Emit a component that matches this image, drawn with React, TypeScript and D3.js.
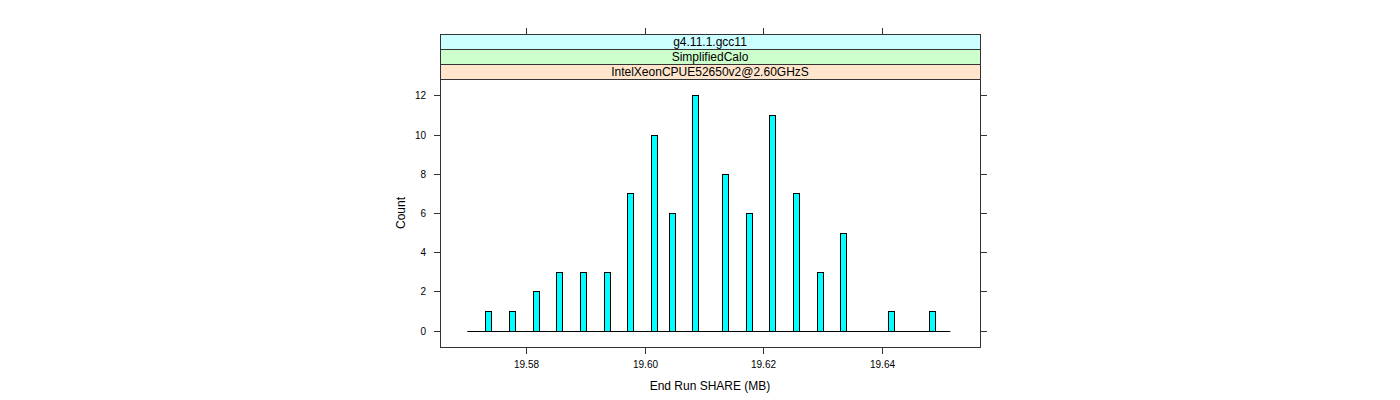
import React from "react";
import * as d3 from "d3";

// Data
const binStarts: number[] = [
  19.57314, 19.57719, 19.58113, 19.58511, 19.58915, 19.5931, 19.59707, 19.60112, 19.60405,
  19.60803, 19.61309, 19.61703, 19.62101, 19.62505, 19.629, 19.63298, 19.64096, 19.64793,
];
const counts: number[] = [1, 1, 2, 3, 3, 3, 7, 10, 6, 12, 8, 6, 11, 7, 3, 5, 1, 1];
const binWidth = 0.00101;
const breaksRange: [number, number] = [19.5701, 19.6515];
const xTicks: number[] = [19.58, 19.6, 19.62, 19.64];
const yTicks: number[] = [0, 2, 4, 6, 8, 10, 12];
const strips: string[] = ["g4.11.1.gcc11", "SimplifiedCalo", "IntelXeonCPUE52650v2@2.60GHzS"];
const stripColors: string[] = ["#ccffff", "#ccffcc", "#ffe5cc"];
const xLabel = "End Run SHARE (MB)";
const yLabel = "Count";

export default function App() {
  const W = 1400, H = 400;
  const left = 440, right = 980, top = 79, bottom = 347;
  const stripH = 15;
  const stripTop = top - stripH * strips.length;
  const x = d3.scaleLinear().domain([19.5655, 19.6565]).range([left, right]);
  const y = d3.scaleLinear().domain([-0.84, 12.84]).range([bottom, top]);
  const font = "'Liberation Sans', Arial, Helvetica, sans-serif";
  const frame = "#333";
  return (
    <svg width={W} height={H} style={{ position: "absolute", left: 0, top: 0, fontFamily: font }}>
      <rect x={0} y={0} width={W} height={H} fill="white" />
      {/* strips */}
      {strips.map((s, i) => {
        const yy = stripTop + i * stripH;
        return (
          <g key={s}>
            <rect x={left + 0.5} y={yy + 0.5} width={right - left} height={stripH} fill={stripColors[i]} stroke={frame} strokeWidth={1} />
            <text x={(left + right) / 2} y={yy + stripH / 2 + 4.3} textAnchor="middle" fontSize={12} fill="black">{s}</text>
          </g>
        );
      })}
      {/* panel frame */}
      <rect x={left + 0.5} y={top + 0.5} width={right - left} height={bottom - top} fill="none" stroke={frame} strokeWidth={1} />
      {/* baseline of empty bins */}
      <line x1={x(breaksRange[0])} x2={x(breaksRange[1])} y1={Math.round(y(0)) + 0.5} y2={Math.round(y(0)) + 0.5} stroke="black" strokeWidth={1} />
      {/* bars */}
      {binStarts.map((b, i) => {
        const x0 = Math.round(x(b)) + 0.5;
        const x1 = Math.round(x(b + binWidth)) + 0.5;
        const y0 = Math.round(y(0)) + 0.5;
        const y1 = Math.round(y(counts[i])) + 0.5;
        return <rect key={i} x={x0} y={y1} width={x1 - x0} height={y0 - y1} fill="#00ffff" stroke="black" strokeWidth={1} />;
      })}
      {/* x ticks */}
      {xTicks.map((t) => {
        const xx = Math.round(x(t)) + 0.5;
        return (
          <g key={t}>
            <line x1={xx} x2={xx} y1={bottom + 0.5} y2={bottom + 7} stroke={frame} />
            <line x1={xx} x2={xx} y1={stripTop + 0.5} y2={stripTop - 6} stroke={frame} />
            <text x={xx} y={368} textAnchor="middle" fontSize={10}>{d3.format(".2f")(t)}</text>
          </g>
        );
      })}
      {/* y ticks */}
      {yTicks.map((t) => {
        const yy = Math.round(y(t)) + 0.5;
        return (
          <g key={t}>
            <line x1={left + 0.5} x2={left - 6} y1={yy} y2={yy} stroke={frame} />
            <line x1={right + 0.5} x2={right + 7} y1={yy} y2={yy} stroke={frame} />
            <text x={426} y={yy + 3.6} textAnchor="end" fontSize={10}>{t}</text>
          </g>
        );
      })}
      <text x={(left + right) / 2} y={390} textAnchor="middle" fontSize={12}>{xLabel}</text>
      <text transform={`translate(405, ${(top + bottom) / 2}) rotate(-90)`} textAnchor="middle" fontSize={12}>{yLabel}</text>
    </svg>
  );
}
